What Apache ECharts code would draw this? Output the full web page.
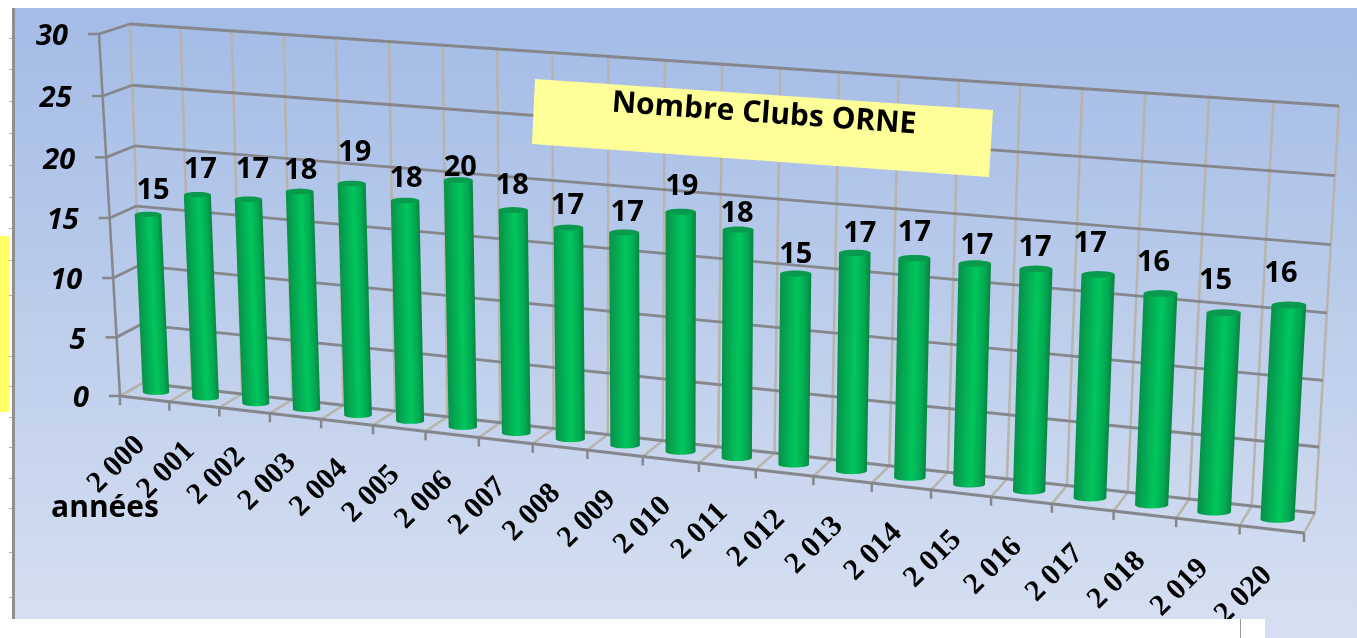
<!DOCTYPE html>
<html>
<head>
    <meta charset="utf-8">
    <script src="https://cdn.jsdelivr.net/npm/echarts@6/dist/echarts.min.js"></script>
    <style>
        html, body { margin: 0; padding: 0; background: #ffffff; }
    </style>
</head>

<body>
    <div id="main" style="width: 1357px;height:638px;"></div>
    <script type="text/javascript">
        // chart data
        var years = ['2 000', '2 001', '2 002', '2 003', '2 004', '2 005', '2 006', '2 007', '2 008', '2 009', '2 010',
            '2 011', '2 012', '2 013', '2 014', '2 015', '2 016', '2 017', '2 018', '2 019', '2 020'];
        var clubs = [15, 17, 17, 18, 19, 18, 20, 18, 17, 17, 19, 18, 15, 17, 17, 17, 17, 17, 16, 15, 16];
        var valueTicks = [0, 5, 10, 15, 20, 25, 30];
        var titleText = 'Nombre Clubs ORNE';
        var xName = 'années';

        // the value labels were dragged by hand in the original, px offsets from the default spot
        var labelNudgeX = [1, -1, 0, -3, -1, -3, -2, -5, -5, -1, -3, -5, -4, 1, -4, -2, -5, -12, -11, -12, -12];
        var labelNudgeY = [2, 1, -3, 5, -5, 4, 14, 2, 4, 6, 1, 10, 7, 7, 1, 8, 5, -5, -5, -6, -5];

        // the picture is a tilted 3D chart: corners of the back wall and of the front plane [bottom-left, bottom-right, top-right, top-left]
        var backQuad = [[143, 383], [1315, 513], [1339, 106], [130, 24]];
        var frontQuad = [[120, 396], [1304, 533], [1326, 120], [99, 34]];
        var barDepth = 0.5;
        var barShare = 0.265;
        var gridRect = { left: 100, top: 50, width: 1000, height: 500 };

        function makeWarp(q) {
            var dx1 = q[1][0] - q[2][0], dx2 = q[3][0] - q[2][0], sx = q[0][0] - q[1][0] + q[2][0] - q[3][0];
            var dy1 = q[1][1] - q[2][1], dy2 = q[3][1] - q[2][1], sy = q[0][1] - q[1][1] + q[2][1] - q[3][1];
            var den = dx1 * dy2 - dx2 * dy1;
            var g = (sx * dy2 - dx2 * sy) / den, h = (dx1 * sy - sx * dy1) / den;
            var a = q[1][0] - q[0][0] + g * q[1][0], b = q[3][0] - q[0][0] + h * q[3][0], c = q[0][0];
            var d = q[1][1] - q[0][1] + g * q[1][1], e = q[3][1] - q[0][1] + h * q[3][1], f = q[0][1];
            return function (u, v) {
                var w = g * u + h * v + 1;
                return [(a * u + b * v + c) / w, (d * u + e * v + f) / w];
            };
        }
        var warpBack = makeWarp(backQuad);
        var warpFront = makeWarp(frontQuad);

        // pixel from the hidden cartesian grid -> tilted pixel, depth 0 = front, 1 = back
        function warp(p, depth) {
            var u = (p[0] - gridRect.left) / gridRect.width;
            var v = 1 - (p[1] - gridRect.top) / gridRect.height;
            var f = warpFront(u, v), b = warpBack(u, v);
            return [f[0] + (b[0] - f[0]) * depth, f[1] + (b[1] - f[1]) * depth];
        }

        function lineEl(a, b, color, width) {
            return {
                type: 'line',
                shape: { x1: a[0], y1: a[1], x2: b[0], y2: b[1] },
                style: { stroke: color, lineWidth: width }
            };
        }

        var GREY = '#85878c';
        var TAN = '#b7b4ac';

        // one vertical grid line per band edge, with the floor part and the tick
        function renderVertical(params, api) {
            var i = api.value(0);
            var band = api.size([1, 0])[0];
            var x = api.coord([i, 0])[0] - band / 2;
            var yBottom = api.coord([i, 0])[1];
            var yTop = api.coord([i, 30])[1];
            var front = warp([x, yBottom], 0);
            var back = warp([x, yBottom], 1);
            var top = warp([x, yTop], 1);
            var children = [
                lineEl(front, back, TAN, 2.5),
                lineEl(back, top, TAN, 2.5),
                lineEl(front, [front[0], front[1] + 9], GREY, 2.5)
            ];
            if (i < years.length) {
                var c = warp(api.coord([i, 0]), 0);
                children.push({
                    type: 'text',
                    x: c[0] - 4,
                    y: c[1] + 42,
                    rotation: Math.PI / 4,
                    style: {
                        text: years[i],
                        font: 'bold 30px "Liberation Serif"',
                        fill: '#000000',
                        align: 'right',
                        verticalAlign: 'middle'
                    }
                });
            }
            return { type: 'group', children: children };
        }

        // one horizontal grid line per value tick, side wall connector, tick and label
        function renderHorizontal(params, api) {
            var val = api.value(0);
            var band = api.size([1, 0])[0];
            var p0 = api.coord([0, val]);
            var p1 = api.coord([years.length - 1, val]);
            var xl = p0[0] - band / 2, xr = p1[0] + band / 2;
            var frontLeft = warp([xl, p0[1]], 0);
            var backLeft = warp([xl, p0[1]], 1);
            var backRight = warp([xr, p0[1]], 1);
            var children = [
                lineEl(frontLeft, backLeft, val === 0 ? TAN : GREY, 2.8),
                lineEl(backLeft, backRight, GREY, 2.8),
                lineEl([frontLeft[0] - 11, frontLeft[1]], frontLeft, GREY, 2.5),
                {
                    type: 'text',
                    x: frontLeft[0] - 31,
                    y: frontLeft[1] + 3,
                    style: {
                        text: String(val),
                        font: 'italic bold 29px "Open Sans"',
                        fill: '#000000',
                        align: 'right',
                        verticalAlign: 'middle'
                    }
                }
            ];
            return { type: 'group', children: children };
        }

        // front edges drawn once
        function renderFrame(params, api) {
            var band = api.size([1, 0])[0];
            var p0 = api.coord([0, 0]);
            var p1 = api.coord([years.length - 1, 0]);
            var pt = api.coord([0, 30]);
            var xl = p0[0] - band / 2, xr = p1[0] + band / 2;
            return {
                type: 'group',
                children: [
                    lineEl(warp([xl, p0[1]], 0), warp([xr, p0[1]], 0), GREY, 3),
                    lineEl(warp([xl, p0[1]], 0), warp([xl, pt[1]], 0), GREY, 2.5)
                ]
            };
        }

        function ellipsePts(c, rx, ry, from, to, n) {
            var pts = [];
            for (var k = 0; k <= n; k++) {
                var t = from + (to - from) * k / n;
                pts.push([c[0] + rx * Math.cos(t), c[1] + ry * Math.sin(t)]);
            }
            return pts;
        }

        // a green cylinder: body with a side-to-side gradient, darker top cap, value above
        function renderBar(params, api) {
            var i = api.value(0);
            var val = api.value(1);
            var band = api.size([1, 0])[0];
            var pb = api.coord([i, 0]);
            var pt = api.coord([i, val]);
            var base = warp(pb, barDepth);
            var top = warp(pt, barDepth);
            var baseR = warp([pb[0] + band * barShare, pb[1]], barDepth);
            var topR = warp([pt[0] + band * barShare, pt[1]], barDepth);
            var rb = Math.hypot(baseR[0] - base[0], baseR[1] - base[1]);
            var rt = Math.hypot(topR[0] - top[0], topR[1] - top[1]);
            var ry = rt * 0.2;

            var body = [[top[0] - rt, top[1]], [top[0] + rt, top[1]]]
                .concat(ellipsePts(base, rb, rb * 0.2, 0, Math.PI, 16));

            // gradient runs across the bar, bars lean a little
            var ax = top[0] - base[0], ay = top[1] - base[1];
            var len = Math.hypot(ax, ay);
            var nx = -ay / len, ny = ax / len;
            if (nx < 0) { nx = -nx; ny = -ny; }
            var mx = (top[0] + base[0]) / 2, my = (top[1] + base[1]) / 2;
            var r = (rb + rt) / 2 + 1;
            var fill = new echarts.graphic.LinearGradient(mx - nx * r, my - ny * r, mx + nx * r, my + ny * r, [
                { offset: 0, color: '#078d48' },
                { offset: 0.22, color: '#05a551' },
                { offset: 0.55, color: '#00c65c' },
                { offset: 0.8, color: '#03a952' },
                { offset: 1, color: '#077f41' }
            ], true);

            return {
                type: 'group',
                children: [
                    { type: 'polygon', shape: { points: body }, style: { fill: fill } },
                    { type: 'polygon', shape: { points: ellipsePts(top, rt, ry, 0, Math.PI * 2, 24) }, style: { fill: '#0a9a4e' } },
                    {
                        type: 'text',
                        x: top[0] + 4 + labelNudgeX[i],
                        y: top[1] - 26 + labelNudgeY[i],
                        style: {
                            text: String(val),
                            font: 'bold 29px "Open Sans"',
                            fill: '#000000',
                            align: 'center',
                            verticalAlign: 'middle'
                        }
                    }
                ]
            };
        }

        // small ticks of the slide ruler on the left
        var rulerYs = [38, 69, 101, 133, 165, 197, 228, 260, 295, 356, 386, 417, 447, 478, 508, 552, 597];
        var decor = [
            {
                type: 'rect', z: 0,
                shape: { x: 12, y: 8, width: 1345, height: 611 },
                style: {
                    fill: new echarts.graphic.LinearGradient(0, 0, 0, 1, [
                        { offset: 0, color: '#a3bbe6' },
                        { offset: 0.5, color: '#bccdeb' },
                        { offset: 1, color: '#d5dff1' }
                    ])
                }
            },
            { type: 'rect', z: 0, shape: { x: 1265, y: 619, width: 92, height: 19 }, style: { fill: '#d5dff1' } },
            { type: 'rect', z: 1, shape: { x: 12, y: 8, width: 3, height: 611 }, style: { fill: '#8f8f8f' } },
            { type: 'rect', z: 1, shape: { x: 0, y: 236, width: 9, height: 176 }, style: { fill: '#ffff66' } },
            // the slide below the picture cuts off the last labels
            { type: 'rect', z: 20, shape: { x: 0, y: 619, width: 1265, height: 19 }, style: { fill: '#ffffff' } },
            { type: 'rect', z: 21, shape: { x: 1240, y: 619, width: 1, height: 19 }, style: { fill: '#9a9a9a' } },
            {
                type: 'polygon', z: 20,
                shape: { points: [[535, 79], [993, 110], [989, 177], [532, 144]] },
                style: { fill: '#ffff99' }
            },
            {
                type: 'text', z: 21,
                x: 764, y: 114, rotation: -0.072,
                style: {
                    text: titleText,
                    font: 'bold 30px "Open Sans"',
                    fill: '#000000',
                    align: 'center',
                    verticalAlign: 'middle'
                }
            },
            {
                type: 'text', z: 21,
                x: 105, y: 508,
                style: {
                    text: xName,
                    font: 'bold 30px "Open Sans"',
                    fill: '#000000',
                    align: 'center',
                    verticalAlign: 'middle'
                }
            }
        ];
        rulerYs.forEach(function (y) {
            decor.push({ type: 'rect', z: 1, shape: { x: 9, y: y, width: 3, height: 1 }, style: { fill: '#b0b0b0' } });
        });

        var myChart = echarts.init(document.getElementById('main'));

        var option = {
            animation: false,
            graphic: { elements: decor },
            grid: gridRect,
            xAxis: { type: 'category', data: years, show: false },
            yAxis: { type: 'value', min: 0, max: 30, interval: 5, show: false },
            series: [
                {
                    type: 'custom',
                    z: 3,
                    silent: true,
                    renderItem: renderVertical,
                    encode: { x: 0 },
                    data: years.concat(['']).map(function (y, i) { return [i]; })
                },
                {
                    type: 'custom',
                    z: 4,
                    silent: true,
                    renderItem: renderHorizontal,
                    encode: { y: 0 },
                    data: valueTicks.map(function (v) { return [v]; })
                },
                {
                    type: 'custom',
                    z: 5,
                    silent: true,
                    renderItem: renderFrame,
                    data: [[0]]
                },
                {
                    type: 'custom',
                    z: 6,
                    silent: true,
                    renderItem: renderBar,
                    encode: { x: 0, y: 1 },
                    data: clubs.map(function (v, i) { return [i, v]; })
                }
            ]
        };

        myChart.setOption(option);
    </script>
</body>
</html>
